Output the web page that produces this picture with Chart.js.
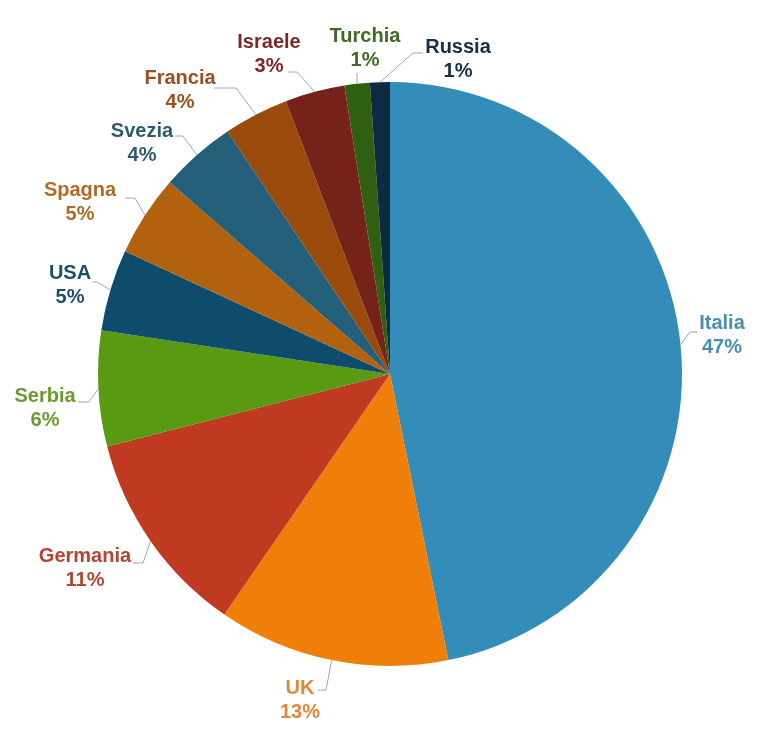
<!DOCTYPE html>
<html>
<head>
<meta charset="utf-8">
<script src="https://cdn.jsdelivr.net/npm/chart.js@4"></script>
<style>
  html, body { margin: 0; padding: 0; background: #fff; }
  #wrap { width: 767px; height: 733px; }
</style>
</head>
<body>
<div id="wrap"><canvas id="pieChart" width="767" height="733"></canvas></div>
<script>
// data (clockwise from 12 o'clock)
var countries = ['Italia', 'UK', 'Germania', 'Serbia', 'USA', 'Spagna', 'Svezia', 'Francia', 'Israele', 'Turchia', 'Russia'];
var shares = [46.8, 12.8, 11.4, 6.4, 4.5, 4.5, 4.2, 3.6, 3.3, 1.4, 1.1];
var percentLabels = ['47%', '13%', '11%', '6%', '5%', '5%', '4%', '4%', '3%', '1%', '1%'];

var sliceColors = ['#338db8', '#f07f09', '#bf3a20', '#5a9a12', '#0e4c6e', '#b2620f', '#235f78', '#9a4a0a', '#752219', '#2f5f10', '#0e2a42'];
var labelColors = ['#4a8db0', '#e0873a', '#b44530', '#6a9a30', '#1e4d6a', '#af6a25', '#2e5a70', '#9a5020', '#7a2a22', '#3f6a22', '#1a2e45'];

// label placement: text centre, elbow, end of leader line
var labelLayout = [
  { tx: 722, ty: 335, ex: 690, ey: 332, hx: 698 },
  { tx: 300, ty: 700, ex: 326, ey: 690, hx: 318 },
  { tx: 85,  ty: 568, ex: 143, ey: 563, hx: 133 },
  { tx: 45,  ty: 408, ex: 89,  ey: 402, hx: 78 },
  { tx: 70,  ty: 285, ex: 97,  ey: 282, hx: 93 },
  { tx: 80,  ty: 202, ex: 135, ey: 198, hx: 125 },
  { tx: 142, ty: 143, ex: 183, ey: 136, hx: 175 },
  { tx: 180, ty: 90,  ex: 236, ey: 88,  hx: 214 },
  { tx: 269, ty: 54,  ex: 297, ey: 72,  hx: 288 },
  { tx: 365, ty: 48,  ex: 357, ey: 73,  hx: 357 },
  { tx: 458, ty: 59,  ex: 413, ey: 53,  hx: 423 }
];

var leaderLabels = {
  id: 'leaderLabels',
  afterDatasetsDraw: function (chart) {
    var ctx = chart.ctx;
    var arcs = chart.getDatasetMeta(0).data;
    ctx.save();
    arcs.forEach(function (arc, i) {
      var p = arc.getProps(['x', 'y', 'startAngle', 'endAngle', 'outerRadius'], true);
      var mid = (p.startAngle + p.endAngle) / 2;
      var sx = p.x + Math.cos(mid) * p.outerRadius;
      var sy = p.y + Math.sin(mid) * p.outerRadius;
      var l = labelLayout[i];
      ctx.strokeStyle = '#a6a6a6';
      ctx.lineWidth = 1;
      ctx.beginPath();
      ctx.moveTo(sx, sy);
      ctx.lineTo(l.ex, l.ey);
      ctx.lineTo(l.hx, l.ey);
      ctx.stroke();
      ctx.fillStyle = labelColors[i];
      ctx.font = 'bold 20px "Liberation Sans", Arial, sans-serif';
      ctx.textAlign = 'center';
      ctx.textBaseline = 'middle';
      ctx.fillText(countries[i], l.tx, l.ty - 12);
      ctx.fillText(percentLabels[i], l.tx, l.ty + 12);
    });
    ctx.restore();
  }
};

var ctx = document.getElementById('pieChart').getContext('2d');
var pieChart = new Chart(ctx, {
  type: 'pie',
  data: {
    labels: countries,
    datasets: [{
      data: shares,
      backgroundColor: sliceColors,
      borderWidth: 0
    }]
  },
  options: {
    responsive: false,
    animation: false,
    layout: { padding: { left: 98, right: 85, top: 82, bottom: 67 } },
    plugins: {
      legend: { display: false },
      tooltip: { enabled: false }
    }
  },
  plugins: [leaderLabels]
});
</script>
</body>
</html>
